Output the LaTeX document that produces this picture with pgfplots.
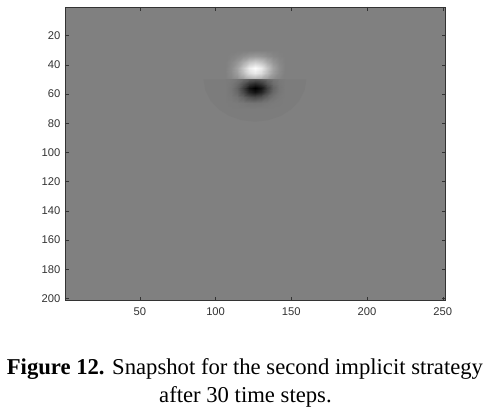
\documentclass[border=0pt]{standalone}
\usepackage{pgfplots}
\pgfplotsset{compat=1.18}
\usepackage{pgfplotstable}
\usepackage{fontspec}
\setmainfont{Liberation Serif}
\newfontfamily\ticksf{Liberation Sans}
\definecolor{bg}{gray}{0.5}
\definecolor{semi}{gray}{0.485}

% snapshot field around the source (values in [-1,1], 0 = background)
\pgfplotstableread{
x y v
106 30 0
110 30 0
114 30 0
118 30 0
122 30 0
126 30 0
130 30 0
134 30 0
138 30 0
142 30 0
146 30 0
106 34 0
110 34 .020
114 34 .055
118 34 .112
122 34 .172
126 34 .198
130 34 .172
134 34 .112
138 34 .055
142 34 .020
146 34 0
106 38 0
110 38 .063
114 38 .169
118 38 .344
122 38 .526
126 38 .607
130 38 .526
134 38 .344
138 38 .169
142 38 .063
146 38 0
106 42 0
110 42 .101
114 42 .272
118 42 .555
122 42 .850
126 42 .980
130 42 .850
134 42 .555
138 42 .272
142 42 .101
146 42 0
106 46 0
110 46 .086
114 46 .232
118 46 .473
122 46 .724
126 46 .835
130 46 .724
134 46 .473
138 46 .232
142 46 .086
146 46 0
106 49.9 0
110 49.9 .040
114 49.9 .107
118 49.9 .218
122 49.9 .335
126 49.9 .386
130 49.9 .335
134 49.9 .218
138 49.9 .107
142 49.9 .040
146 49.9 0
106 50.1 -.03
110 50.1 -.043
114 50.1 -.081
118 50.1 -.160
122 50.1 -.260
126 50.1 -.308
130 50.1 -.260
134 50.1 -.160
138 50.1 -.081
142 50.1 -.043
146 50.1 -.03
106 53 -.03
110 53 -.063
114 53 -.154
118 53 -.350
122 53 -.594
126 53 -.712
130 53 -.594
134 53 -.350
138 53 -.154
142 53 -.063
146 53 -.03
106 56 -.03
110 56 -.078
114 56 -.211
118 56 -.495
122 56 -.850
126 56 -1
130 56 -.850
134 56 -.495
138 56 -.211
142 56 -.078
146 56 -.03
106 59 -.03
110 59 -.070
114 59 -.180
118 59 -.416
122 59 -.711
126 59 -.853
130 59 -.711
134 59 -.416
138 59 -.180
142 59 -.070
146 59 -.03
106 62 -.03
110 62 -.049
114 62 -.101
118 62 -.212
122 62 -.352
126 62 -.419
130 62 -.352
134 62 -.212
138 62 -.101
142 62 -.049
146 62 -.03
106 66 -.03
110 66 -.033
114 66 -.041
118 66 -.058
122 66 -.080
126 66 -.090
130 66 -.080
134 66 -.058
138 66 -.041
142 66 -.033
146 66 -.03
106 70 -.03
110 70 -.03
114 70 -.03
118 70 -.03
122 70 -.03
126 70 -.03
130 70 -.03
134 70 -.03
138 70 -.03
142 70 -.03
146 70 -.03
}\field

\begin{document}
\begin{tikzpicture}
\begin{axis}[
  scale only axis,
  width=285.5pt, height=220.3pt,
  xmin=0.5, xmax=252,
  ymin=0.5, ymax=201.5,
  y dir=reverse,
  xtick={50,100,...,250},
  ytick={20,40,...,200},
  tick align=inside,
  major tick length=3pt,
  axis line style={black!80},
  tick style={black!80},
  ticklabel style={font=\ticksf\fontsize{8.4}{9}\selectfont, text=black!80},
  xticklabel style={yshift=-1.5pt},
  /pgf/number format/assume math mode=true,
  axis background/.style={fill=bg},
  colormap={bw}{gray(0cm)=(0); gray(1cm)=(1)},
  point meta min=-1, point meta max=1,
]
% faint half-ellipse below the source
\addplot[draw=none, fill=semi] coordinates {
(160,50) (158.8,57.5) (155.4,64.5) (150,70.5) (143,75.1) (134.8,78)
(126,79) (117.2,78) (109,75.1) (102,70.5) (96.6,64.5) (93.2,57.5) (92,50)
};
\addplot[surf, shader=interp, mesh/cols=11, point meta=explicit]
  table[x=x, y=y, meta=v] {\field};
\coordinate (sw) at (rel axis cs:0,0);
\coordinate (ne) at (rel axis cs:1,1);
\coordinate (bm) at (rel axis cs:0.5,0);
\end{axis}
\path ([shift={(-48.75pt,-82.7pt)}]sw) rectangle ([shift={(34pt,5.25pt)}]ne);
\node[anchor=base, font=\fontsize{17}{20}\selectfont] at ([shift={(-7.8pt,-55.7pt)}]bm)
  {\textbf{Figure 12.} Snapshot for the second implicit strategy};
\node[anchor=base, font=\fontsize{17}{20}\selectfont] at ([shift={(-7.4pt,-76.7pt)}]bm)
  {after 30 time steps.};
\end{tikzpicture}
\end{document}
